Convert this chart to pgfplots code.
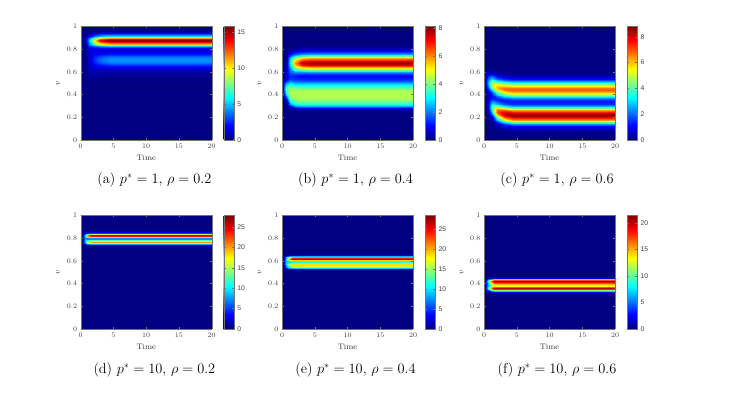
\documentclass[border=0pt]{standalone}
\usepackage{fontspec}
\usepackage{pgfplots}
\pgfplotsset{compat=1.18}
\newfontfamily\cbfont{Liberation Sans}
\pgfplotsset{
  heat/.style={
    scale only axis, width=131pt, height=113.5pt, anchor=south west,
    xmin=0,xmax=20,ymin=0,ymax=1, view={0}{90},
    colormap/jet, colorbar, point meta min=0,
    xtick={0,5,10,15,20}, ytick={0,0.2,0.4,0.6,0.8,1},
    tick align=inside, major tick length=2pt,
    tick label style={font=\fontsize{7.5}{8}\selectfont, color=black!75},
    xlabel={Time}, ylabel={$v$},
    label style={font=\fontsize{8}{9}\selectfont, color=black!80},
    axis line style={black!55, line width=0.4pt},
    every tick/.style={black!55},
    axis on top,
    colorbar style={width=10pt, at={(parent axis.north east)}, anchor=north west, xshift=3.5pt,
      tick align=inside, major tick length=2pt,
      axis line style={black!55, line width=0.4pt},
      yticklabel style={font=\cbfont\fontsize{6.8}{7}\selectfont, color=black!75, /pgf/number format/assume math mode=true}},
  },
  hs/.style={surf, shader=interp, mesh/cols=#1}
}
\begin{document}
\begin{tikzpicture}
\path[use as bounding box] (0pt,0pt) rectangle (754pt,396pt);
% (a)
\begin{axis}[heat, at={(80.7pt,256pt)}, point meta max=15.75, colorbar style={ytick={0,5,10,15}}]
\addplot3[hs=7] table[row sep=\\]{x y z\\
0 0 0\\ .6 0 0\\ 1.2 0 0\\ 2 0 0\\ 3 0 0\\ 4.5 0 0\\ 20 0 0\\
0 .5 0\\ .6 .5 0\\ 1.2 .5 0\\ 2 .5 0\\ 3 .5 0\\ 4.5 .5 0\\ 20 .5 0\\
0 .56 0\\ .6 .56 0\\ 1.2 .56 .5\\ 2 .56 .4\\ 3 .56 .3\\ 4.5 .56 .2\\ 20 .56 .2\\
0 .60 0\\ .6 .60 0\\ 1.2 .60 .8\\ 2 .60 .8\\ 3 .60 .6\\ 4.5 .60 .55\\ 20 .60 .55\\
0 .62 0\\ .6 .62 0\\ 1.2 .62 .9\\ 2 .62 1\\ 3 .62 .95\\ 4.5 .62 .95\\ 20 .62 .95\\
0 .64 0\\ .6 .64 0\\ 1.2 .64 1\\ 2 .64 1.3\\ 3 .64 1.5\\ 4.5 .64 1.66\\ 20 .64 1.66\\
0 .66 0\\ .6 .66 0\\ 1.2 .66 1\\ 2 .66 1.7\\ 3 .66 2.3\\ 4.5 .66 2.67\\ 20 .66 2.67\\
0 .68 0\\ .6 .68 0\\ 1.2 .68 1\\ 2 .68 2.2\\ 3 .68 3.1\\ 4.5 .68 3.68\\ 20 .68 3.68\\
0 .70 0\\ .6 .70 0\\ 1.2 .70 1\\ 2 .70 2.5\\ 3 .70 3.6\\ 4.5 .70 4.26\\ 20 .70 4.26\\
0 .72 0\\ .6 .72 0\\ 1.2 .72 1\\ 2 .72 2.5\\ 3 .72 3.5\\ 4.5 .72 4.11\\ 20 .72 4.11\\
0 .74 0\\ .6 .74 0\\ 1.2 .74 1\\ 2 .74 2.2\\ 3 .74 2.9\\ 4.5 .74 3.31\\ 20 .74 3.31\\
0 .76 0\\ .6 .76 0\\ 1.2 .76 1.1\\ 2 .76 1.8\\ 3 .76 2\\ 4.5 .76 2.25\\ 20 .76 2.25\\
0 .78 0\\ .6 .78 0\\ 1.2 .78 1.3\\ 2 .78 1.5\\ 3 .78 1.4\\ 4.5 .78 1.43\\ 20 .78 1.43\\
0 .80 0\\ .6 .80 0\\ 1.2 .80 1.6\\ 2 .80 1.5\\ 3 .80 1.4\\ 4.5 .80 1.38\\ 20 .80 1.38\\
0 .81 0\\ .6 .81 0\\ 1.2 .81 1.9\\ 2 .81 1.8\\ 3 .81 1.9\\ 4.5 .81 1.96\\ 20 .81 1.96\\
0 .82 0\\ .6 .82 0\\ 1.2 .82 2.3\\ 2 .82 2.4\\ 3 .82 2.9\\ 4.5 .82 3.16\\ 20 .82 3.16\\
0 .83 0\\ .6 .83 0\\ 1.2 .83 2.8\\ 2 .83 3.5\\ 3 .83 4.7\\ 4.5 .83 5.2\\ 20 .83 5.2\\
0 .84 0\\ .6 .84 0\\ 1.2 .84 3.4\\ 2 .84 5\\ 3 .84 7.1\\ 4.5 .84 7.9\\ 20 .84 7.9\\
0 .85 0\\ .6 .85 .2\\ 1.2 .85 4\\ 2 .85 6.8\\ 3 .85 9.8\\ 4.5 .85 10.9\\ 20 .85 10.9\\
0 .86 0\\ .6 .86 .35\\ 1.2 .86 4.6\\ 2 .86 8.4\\ 3 .86 12.2\\ 4.5 .86 13.6\\ 20 .86 13.6\\
0 .87 0\\ .6 .87 .5\\ 1.2 .87 5\\ 2 .87 9.4\\ 3 .87 13.8\\ 4.5 .87 15.3\\ 20 .87 15.3\\
0 .88 0\\ .6 .88 .5\\ 1.2 .88 5\\ 2 .88 9.5\\ 3 .88 14\\ 4.5 .88 15.5\\ 20 .88 15.5\\
0 .89 0\\ .6 .89 .45\\ 1.2 .89 4.6\\ 2 .89 8.6\\ 3 .89 12.6\\ 4.5 .89 14\\ 20 .89 14\\
0 .90 0\\ .6 .90 .3\\ 1.2 .90 3.8\\ 2 .90 7\\ 3 .90 10.2\\ 4.5 .90 11.3\\ 20 .90 11.3\\
0 .91 0\\ .6 .91 .15\\ 1.2 .91 2.7\\ 2 .91 5\\ 3 .91 7.4\\ 4.5 .91 8.2\\ 20 .91 8.2\\
0 .92 0\\ .6 .92 0\\ 1.2 .92 1.7\\ 2 .92 3.3\\ 3 .92 4.8\\ 4.5 .92 5.3\\ 20 .92 5.3\\
0 .93 0\\ .6 .93 0\\ 1.2 .93 1\\ 2 .93 1.9\\ 3 .93 2.8\\ 4.5 .93 3.1\\ 20 .93 3.1\\
0 .94 0\\ .6 .94 0\\ 1.2 .94 .5\\ 2 .94 1\\ 3 .94 1.4\\ 4.5 .94 1.6\\ 20 .94 1.6\\
0 .96 0\\ .6 .96 0\\ 1.2 .96 .1\\ 2 .96 .2\\ 3 .96 .3\\ 4.5 .96 .3\\ 20 .96 .3\\
0 .98 0\\ .6 .98 0\\ 1.2 .98 0\\ 2 .98 0\\ 3 .98 0\\ 4.5 .98 0\\ 20 .98 0\\
0 1 0\\ .6 1 0\\ 1.2 1 0\\ 2 1 0\\ 3 1 0\\ 4.5 1 0\\ 20 1 0\\
};
\end{axis}
% (b)
\begin{axis}[heat, at={(282pt,256pt)}, point meta max=8.15, colorbar style={ytick={0,2,4,6,8}}]
\addplot3[hs=7] table[row sep=\\]{x y z\\
0 0 0\\ .6 0 0\\ 1.2 0 0\\ 2 0 0\\ 3 0 0\\ 4.5 0 0\\ 20 0 0\\
0 .22 0\\ .6 .22 0\\ 1.2 .22 0\\ 2 .22 0\\ 3 .22 0\\ 4.5 .22 0\\ 20 .22 0\\
0 .24 0\\ .6 .24 0\\ 1.2 .24 0\\ 2 .24 0\\ 3 .24 0\\ 4.5 .24 0\\ 20 .24 0\\
0 .26 0\\ .6 .26 0\\ 1.2 .26 0\\ 2 .26 .2\\ 3 .26 .2\\ 4.5 .26 .2\\ 20 .26 .2\\
0 .28 0\\ .6 .28 0\\ 1.2 .28 .3\\ 2 .28 .8\\ 3 .28 .9\\ 4.5 .28 .9\\ 20 .28 .9\\
0 .30 0\\ .6 .30 0\\ 1.2 .30 1.1\\ 2 .30 2.2\\ 3 .30 2.4\\ 4.5 .30 2.4\\ 20 .30 2.4\\
0 .32 0\\ .6 .32 .1\\ 1.2 .32 2.2\\ 2 .32 3.3\\ 3 .32 3.4\\ 4.5 .32 3.4\\ 20 .32 3.4\\
0 .34 0\\ .6 .34 .3\\ 1.2 .34 3.1\\ 2 .34 3.9\\ 3 .34 4\\ 4.5 .34 4\\ 20 .34 4\\
0 .36 0\\ .6 .36 .8\\ 1.2 .36 3.7\\ 2 .36 4.2\\ 3 .36 4.3\\ 4.5 .36 4.3\\ 20 .36 4.3\\
0 .38 0\\ .6 .38 1.6\\ 1.2 .38 4.1\\ 2 .38 4.4\\ 3 .38 4.45\\ 4.5 .38 4.45\\ 20 .38 4.45\\
0 .40 0\\ .6 .40 2.5\\ 1.2 .40 4.3\\ 2 .40 4.4\\ 3 .40 4.5\\ 4.5 .40 4.5\\ 20 .40 4.5\\
0 .42 0\\ .6 .42 3.2\\ 1.2 .42 4.4\\ 2 .42 4.4\\ 3 .42 4.45\\ 4.5 .42 4.45\\ 20 .42 4.45\\
0 .44 0\\ .6 .44 3.6\\ 1.2 .44 4.4\\ 2 .44 4.3\\ 3 .44 4.3\\ 4.5 .44 4.3\\ 20 .44 4.3\\
0 .46 0\\ .6 .46 3.6\\ 1.2 .46 4.2\\ 2 .46 3.9\\ 3 .46 3.9\\ 4.5 .46 3.9\\ 20 .46 3.9\\
0 .48 0\\ .6 .48 3.1\\ 1.2 .48 3.7\\ 2 .48 3.3\\ 3 .48 3.3\\ 4.5 .48 3.3\\ 20 .48 3.3\\
0 .50 0\\ .6 .50 2.2\\ 1.2 .50 2.9\\ 2 .50 2.5\\ 3 .50 2.5\\ 4.5 .50 2.5\\ 20 .50 2.5\\
0 .52 0\\ .6 .52 1.3\\ 1.2 .52 2.1\\ 2 .52 1.8\\ 3 .52 1.7\\ 4.5 .52 1.7\\ 20 .52 1.7\\
0 .54 0\\ .6 .54 .8\\ 1.2 .54 1.5\\ 2 .54 1.35\\ 3 .54 1.25\\ 4.5 .54 1.25\\ 20 .54 1.25\\
0 .56 0\\ .6 .56 .6\\ 1.2 .56 1.3\\ 2 .56 1.2\\ 3 .56 1.05\\ 4.5 .56 1.05\\ 20 .56 1.05\\
0 .58 0\\ .6 .58 .6\\ 1.2 .58 1.6\\ 2 .58 1.5\\ 3 .58 1.35\\ 4.5 .58 1.38\\ 20 .58 1.38\\
0 .60 0\\ .6 .60 .6\\ 1.2 .60 1.8\\ 2 .60 2.2\\ 3 .60 2.2\\ 4.5 .60 2.32\\ 20 .60 2.32\\
0 .62 0\\ .6 .62 .6\\ 1.2 .62 2\\ 2 .62 3.3\\ 3 .62 3.7\\ 4.5 .62 3.9\\ 20 .62 3.9\\
0 .64 0\\ .6 .64 .5\\ 1.2 .64 2.4\\ 2 .64 4.6\\ 3 .64 5.5\\ 4.5 .64 5.81\\ 20 .64 5.81\\
0 .66 0\\ .6 .66 .4\\ 1.2 .66 2.8\\ 2 .66 5.6\\ 3 .66 7\\ 4.5 .66 7.38\\ 20 .66 7.38\\
0 .68 0\\ .6 .68 .3\\ 1.2 .68 3\\ 2 .68 6\\ 3 .68 7.6\\ 4.5 .68 8\\ 20 .68 8\\
0 .70 0\\ .6 .70 .15\\ 1.2 .70 3\\ 2 .70 5.6\\ 3 .70 7\\ 4.5 .70 7.38\\ 20 .70 7.38\\
0 .72 0\\ .6 .72 0\\ 1.2 .72 2.6\\ 2 .72 4.4\\ 3 .72 5.5\\ 4.5 .72 5.81\\ 20 .72 5.81\\
0 .74 0\\ .6 .74 0\\ 1.2 .74 1.8\\ 2 .74 2.9\\ 3 .74 3.7\\ 4.5 .74 3.9\\ 20 .74 3.9\\
0 .76 0\\ .6 .76 0\\ 1.2 .76 1\\ 2 .76 1.7\\ 3 .76 2.1\\ 4.5 .76 2.22\\ 20 .76 2.22\\
0 .78 0\\ .6 .78 0\\ 1.2 .78 .4\\ 2 .78 .8\\ 3 .78 1\\ 4.5 .78 1.08\\ 20 .78 1.08\\
0 .80 0\\ .6 .80 0\\ 1.2 .80 .1\\ 2 .80 .35\\ 3 .80 .4\\ 4.5 .80 .45\\ 20 .80 .45\\
0 .82 0\\ .6 .82 0\\ 1.2 .82 0\\ 2 .82 .1\\ 3 .82 .15\\ 4.5 .82 .16\\ 20 .82 .16\\
0 .84 0\\ .6 .84 0\\ 1.2 .84 0\\ 2 .84 0\\ 3 .84 .05\\ 4.5 .84 .05\\ 20 .84 .05\\
0 .86 0\\ .6 .86 0\\ 1.2 .86 0\\ 2 .86 0\\ 3 .86 0\\ 4.5 .86 0\\ 20 .86 0\\
0 1 0\\ .6 1 0\\ 1.2 1 0\\ 2 1 0\\ 3 1 0\\ 4.5 1 0\\ 20 1 0\\
};
\end{axis}
% (c)
\begin{axis}[heat, at={(484pt,256pt)}, point meta max=8.8, colorbar style={ytick={0,2,4,6,8}}]
\addplot3[hs=7] table[row sep=\\]{x y z\\
0 0 0\\ .6 0 0\\ 1.2 0 0\\ 2 0 0\\ 3 0 0\\ 4.5 0 0\\ 20 0 0\\
0 .04 0\\ .6 .04 0\\ 1.2 .04 0\\ 2 .04 0\\ 3 .04 0\\ 4.5 .04 .01\\ 20 .04 .01\\
0 .06 0\\ .6 .06 0\\ 1.2 .06 0\\ 2 .06 0\\ 3 .06 .02\\ 4.5 .06 .05\\ 20 .06 .05\\
0 .08 0\\ .6 .08 0\\ 1.2 .08 0\\ 2 .08 .02\\ 3 .08 .09\\ 4.5 .08 .17\\ 20 .08 .17\\
0 .10 0\\ .6 .10 0\\ 1.2 .10 0\\ 2 .10 .08\\ 3 .10 .28\\ 4.5 .10 .49\\ 20 .10 .49\\
0 .12 0\\ .6 .12 0\\ 1.2 .12 .02\\ 2 .12 .24\\ 3 .12 .74\\ 4.5 .12 1.17\\ 20 .12 1.17\\
0 .14 0\\ .6 .14 0\\ 1.2 .14 .06\\ 2 .14 .62\\ 3 .14 1.64\\ 4.5 .14 2.42\\ 20 .14 2.42\\
0 .16 0\\ .6 .16 0\\ 1.2 .16 .18\\ 2 .16 1.39\\ 3 .16 3.11\\ 4.5 .16 4.24\\ 20 .16 4.24\\
0 .18 0\\ .6 .18 .03\\ 1.2 .18 .44\\ 2 .18 2.63\\ 3 .18 5.04\\ 4.5 .18 6.32\\ 20 .18 6.32\\
0 .20 0\\ .6 .20 .07\\ 1.2 .20 .94\\ 2 .20 4.25\\ 3 .20 6.93\\ 4.5 .20 8.03\\ 20 .20 8.03\\
0 .22 0\\ .6 .22 .16\\ 1.2 .22 1.72\\ 2 .22 5.85\\ 3 .22 8.13\\ 4.5 .22 8.7\\ 20 .22 8.7\\
0 .24 0\\ .6 .24 .3\\ 1.2 .24 2.67\\ 2 .24 6.86\\ 3 .24 8.13\\ 4.5 .24 8.03\\ 20 .24 8.03\\
0 .26 0\\ .6 .26 .49\\ 1.2 .26 3.53\\ 2 .26 6.86\\ 3 .26 6.93\\ 4.5 .26 6.32\\ 20 .26 6.32\\
0 .28 0\\ .6 .28 .67\\ 1.2 .28 3.98\\ 2 .28 5.86\\ 3 .28 5.06\\ 4.5 .28 4.27\\ 20 .28 4.27\\
0 .30 0\\ .6 .30 .78\\ 1.2 .30 3.82\\ 2 .30 4.27\\ 3 .30 3.17\\ 4.5 .30 2.53\\ 20 .30 2.53\\
0 .32 0\\ .6 .32 .78\\ 1.2 .32 3.15\\ 2 .32 2.72\\ 3 .32 1.85\\ 4.5 .32 1.48\\ 20 .32 1.48\\
0 .34 0\\ .6 .34 .68\\ 1.2 .34 2.24\\ 2 .34 1.66\\ 3 .34 1.29\\ 4.5 .34 1.26\\ 20 .34 1.26\\
0 .36 0\\ .6 .36 .53\\ 1.2 .36 1.47\\ 2 .36 1.3\\ 3 .36 1.55\\ 4.5 .36 1.82\\ 20 .36 1.82\\
0 .38 0\\ .6 .38 .41\\ 1.2 .38 1.11\\ 2 .38 1.7\\ 3 .38 2.5\\ 4.5 .38 3.05\\ 20 .38 3.05\\
0 .40 0\\ .6 .40 .44\\ 1.2 .40 1.27\\ 2 .40 2.74\\ 3 .40 3.97\\ 4.5 .40 4.68\\ 20 .40 4.68\\
0 .42 0\\ .6 .42 .66\\ 1.2 .42 1.98\\ 2 .42 4.16\\ 3 .42 5.54\\ 4.5 .42 6.17\\ 20 .42 6.17\\
0 .44 0\\ .6 .44 1.1\\ 1.2 .44 3.07\\ 2 .44 5.47\\ 3 .44 6.61\\ 4.5 .44 6.97\\ 20 .44 6.97\\
0 .46 0\\ .6 .46 1.67\\ 1.2 .46 4.18\\ 2 .46 6.17\\ 3 .46 6.71\\ 4.5 .46 6.69\\ 20 .46 6.69\\
0 .48 0\\ .6 .48 2.21\\ 1.2 .48 4.9\\ 2 .48 5.93\\ 3 .48 5.81\\ 4.5 .48 5.48\\ 20 .48 5.48\\
0 .50 0\\ .6 .50 2.49\\ 1.2 .50 4.9\\ 2 .50 4.85\\ 3 .50 4.28\\ 4.5 .50 3.82\\ 20 .50 3.82\\
0 .52 0\\ .6 .52 2.39\\ 1.2 .52 4.18\\ 2 .52 3.39\\ 3 .52 2.7\\ 4.5 .52 2.28\\ 20 .52 2.28\\
0 .54 0\\ .6 .54 1.96\\ 1.2 .54 3.04\\ 2 .54 2.02\\ 3 .54 1.45\\ 4.5 .54 1.15\\ 20 .54 1.15\\
0 .56 0\\ .6 .56 1.37\\ 1.2 .56 1.88\\ 2 .56 1.02\\ 3 .56 .66\\ 4.5 .56 .5\\ 20 .56 .5\\
0 .58 0\\ .6 .58 .81\\ 1.2 .58 .99\\ 2 .58 .44\\ 3 .58 .26\\ 4.5 .58 .18\\ 20 .58 .18\\
0 .60 0\\ .6 .60 .41\\ 1.2 .60 .45\\ 2 .60 .16\\ 3 .60 .09\\ 4.5 .60 .06\\ 20 .60 .06\\
0 .62 0\\ .6 .62 .18\\ 1.2 .62 .17\\ 2 .62 .05\\ 3 .62 .03\\ 4.5 .62 .01\\ 20 .62 .01\\
0 .64 0\\ .6 .64 .07\\ 1.2 .64 .06\\ 2 .64 .02\\ 3 .64 .01\\ 4.5 .64 0\\ 20 .64 0\\
0 .68 0\\ .6 .68 .01\\ 1.2 .68 0\\ 2 .68 0\\ 3 .68 0\\ 4.5 .68 0\\ 20 .68 0\\
0 1 0\\ .6 1 0\\ 1.2 1 0\\ 2 1 0\\ 3 1 0\\ 4.5 1 0\\ 20 1 0\\
};
\end{axis}
% (d)
\begin{axis}[heat, at={(80.7pt,67pt)}, point meta max=27.8, colorbar style={ytick={0,5,10,15,20,25}}]
\addplot3[hs=6] table[row sep=\\]{x y z\\
0 0 0\\ .2 0 0\\ .6 0 0\\ 1 0 0\\ 1.5 0 0\\ 20 0 0\\
0 .70 0\\ .2 .70 0\\ .6 .70 0\\ 1 .70 0\\ 1.5 .70 0\\ 20 .70 0\\
0 .72 0\\ .2 .72 0\\ .6 .72 0\\ 1 .72 0\\ 1.5 .72 0\\ 20 .72 0\\
0 .73 0\\ .2 .73 0\\ .6 .73 0\\ 1 .73 0\\ 1.5 .73 .2\\ 20 .73 .2\\
0 .74 0\\ .2 .74 0\\ .6 .74 .5\\ 1 .74 1.2\\ 1.5 .74 1.5\\ 20 .74 1.5\\
0 .75 0\\ .2 .75 .2\\ .6 .75 2.5\\ 1 .75 7\\ 1.5 .75 8\\ 20 .75 8\\
0 .76 0\\ .2 .76 .5\\ .6 .76 6\\ 1 .76 15\\ 1.5 .76 18\\ 20 .76 18\\
0 .77 0\\ .2 .77 .8\\ .6 .77 8.5\\ 1 .77 16\\ 1.5 .77 20\\ 20 .77 20\\
0 .78 0\\ .2 .78 1\\ .6 .78 9\\ 1 .78 11\\ 1.5 .78 13\\ 20 .78 13\\
0 .79 0\\ .2 .79 1\\ .6 .79 8\\ 1 .79 7\\ 1.5 .79 7.5\\ 20 .79 7.5\\
0 .80 0\\ .2 .80 1\\ .6 .80 7.5\\ 1 .80 7\\ 1.5 .80 7.5\\ 20 .80 7.5\\
0 .81 0\\ .2 .81 1\\ .6 .81 8.5\\ 1 .81 12\\ 1.5 .81 14\\ 20 .81 14\\
0 .82 0\\ .2 .82 1\\ .6 .82 9.5\\ 1 .82 19\\ 1.5 .82 24\\ 20 .82 24\\
0 .83 0\\ .2 .83 .8\\ .6 .83 9\\ 1 .83 20\\ 1.5 .83 26\\ 20 .83 26\\
0 .84 0\\ .2 .84 .5\\ .6 .84 6\\ 1 .84 13\\ 1.5 .84 16\\ 20 .84 16\\
0 .85 0\\ .2 .85 .2\\ .6 .85 2.5\\ 1 .85 4.5\\ 1.5 .85 5\\ 20 .85 5\\
0 .86 0\\ .2 .86 0\\ .6 .86 .5\\ 1 .86 .8\\ 1.5 .86 .8\\ 20 .86 .8\\
0 .87 0\\ .2 .87 0\\ .6 .87 0\\ 1 .87 .1\\ 1.5 .87 .1\\ 20 .87 .1\\
0 .88 0\\ .2 .88 0\\ .6 .88 0\\ 1 .88 0\\ 1.5 .88 0\\ 20 .88 0\\
0 1 0\\ .2 1 0\\ .6 1 0\\ 1 1 0\\ 1.5 1 0\\ 20 1 0\\
};
\end{axis}
% (e)
\begin{axis}[heat, at={(282pt,67pt)}, point meta max=28.3, colorbar style={ytick={0,5,10,15,20,25}}]
\addplot3[hs=6] table[row sep=\\]{x y z\\
0 0 0\\ .2 0 0\\ .6 0 0\\ 1 0 0\\ 1.5 0 0\\ 20 0 0\\
0 .48 0\\ .2 .48 0\\ .6 .48 0\\ 1 .48 0\\ 1.5 .48 0\\ 20 .48 0\\
0 .50 0\\ .2 .50 0\\ .6 .50 0\\ 1 .50 0\\ 1.5 .50 0\\ 20 .50 0\\
0 .51 0\\ .2 .51 0\\ .6 .51 0\\ 1 .51 0\\ 1.5 .51 .2\\ 20 .51 .2\\
0 .52 0\\ .2 .52 0\\ .6 .52 0\\ 1 .52 .5\\ 1.5 .52 .8\\ 20 .52 .8\\
0 .53 0\\ .2 .53 0\\ .6 .53 .8\\ 1 .53 2\\ 1.5 .53 3\\ 20 .53 3\\
0 .54 0\\ .2 .54 .2\\ .6 .54 3\\ 1 .54 7\\ 1.5 .54 9\\ 20 .54 9\\
0 .55 0\\ .2 .55 .5\\ .6 .55 6.5\\ 1 .55 12\\ 1.5 .55 15\\ 20 .55 15\\
0 .56 0\\ .2 .56 .8\\ .6 .56 8.5\\ 1 .56 14.5\\ 1.5 .56 18.5\\ 20 .56 18.5\\
0 .57 0\\ .2 .57 1\\ .6 .57 9.5\\ 1 .57 14.5\\ 1.5 .57 18.5\\ 20 .57 18.5\\
0 .58 0\\ .2 .58 1\\ .6 .58 9.5\\ 1 .58 12\\ 1.5 .58 15\\ 20 .58 15\\
0 .59 0\\ .2 .59 1\\ .6 .59 9\\ 1 .59 9.5\\ 1.5 .59 11.5\\ 20 .59 11.5\\
0 .60 0\\ .2 .60 1\\ .6 .60 9\\ 1 .60 10\\ 1.5 .60 12\\ 20 .60 12\\
0 .61 0\\ .2 .61 1\\ .6 .61 9.5\\ 1 .61 15\\ 1.5 .61 19\\ 20 .61 19\\
0 .62 0\\ .2 .62 .8\\ .6 .62 10\\ 1 .62 20\\ 1.5 .62 27\\ 20 .62 27\\
0 .63 0\\ .2 .63 .5\\ .6 .63 8\\ 1 .63 16\\ 1.5 .63 21\\ 20 .63 21\\
0 .64 0\\ .2 .64 .2\\ .6 .64 4\\ 1 .64 7\\ 1.5 .64 8.5\\ 20 .64 8.5\\
0 .65 0\\ .2 .65 0\\ .6 .65 1.2\\ 1 .65 1.8\\ 1.5 .65 2\\ 20 .65 2\\
0 .66 0\\ .2 .66 0\\ .6 .66 .3\\ 1 .66 .4\\ 1.5 .66 .4\\ 20 .66 .4\\
0 .67 0\\ .2 .67 0\\ .6 .67 0\\ 1 .67 .1\\ 1.5 .67 .1\\ 20 .67 .1\\
0 .68 0\\ .2 .68 0\\ .6 .68 0\\ 1 .68 0\\ 1.5 .68 0\\ 20 .68 0\\
0 1 0\\ .2 1 0\\ .6 1 0\\ 1 1 0\\ 1.5 1 0\\ 20 1 0\\
};
\end{axis}
% (f)
\begin{axis}[heat, at={(484pt,67pt)}, point meta max=21.4, colorbar style={ytick={0,5,10,15,20}}]
\addplot3[hs=6] table[row sep=\\]{x y z\\
0 0 0\\ .2 0 0\\ .6 0 0\\ 1 0 0\\ 1.5 0 0\\ 20 0 0\\
0 .28 0\\ .2 .28 0\\ .6 .28 0\\ 1 .28 0\\ 1.5 .28 0\\ 20 .28 0\\
0 .30 0\\ .2 .30 0\\ .6 .30 0\\ 1 .30 0\\ 1.5 .30 0\\ 20 .30 0\\
0 .31 0\\ .2 .31 0\\ .6 .31 0\\ 1 .31 0\\ 1.5 .31 .1\\ 20 .31 .1\\
0 .32 0\\ .2 .32 0\\ .6 .32 0\\ 1 .32 .3\\ 1.5 .32 .5\\ 20 .32 .5\\
0 .33 0\\ .2 .33 0\\ .6 .33 1\\ 1 .33 2\\ 1.5 .33 3\\ 20 .33 3\\
0 .34 0\\ .2 .34 .2\\ .6 .34 4\\ 1 .34 8\\ 1.5 .34 11\\ 20 .34 11\\
0 .35 0\\ .2 .35 .5\\ .6 .35 7.5\\ 1 .35 14\\ 1.5 .35 18\\ 20 .35 18\\
0 .36 0\\ .2 .36 .8\\ .6 .36 8.5\\ 1 .36 16\\ 1.5 .36 20\\ 20 .36 20\\
0 .37 0\\ .2 .37 1\\ .6 .37 8\\ 1 .37 14\\ 1.5 .37 17\\ 20 .37 17\\
0 .38 0\\ .2 .38 1\\ .6 .38 7\\ 1 .38 11\\ 1.5 .38 13.5\\ 20 .38 13.5\\
0 .39 0\\ .2 .39 1\\ .6 .39 6.5\\ 1 .39 10\\ 1.5 .39 12.5\\ 20 .39 12.5\\
0 .40 0\\ .2 .40 1\\ .6 .40 7\\ 1 .40 12\\ 1.5 .40 15\\ 20 .40 15\\
0 .41 0\\ .2 .41 1\\ .6 .41 8\\ 1 .41 15\\ 1.5 .41 19\\ 20 .41 19\\
0 .42 0\\ .2 .42 .8\\ .6 .42 8.5\\ 1 .42 16.5\\ 1.5 .42 21\\ 20 .42 21\\
0 .43 0\\ .2 .43 .5\\ .6 .43 7.5\\ 1 .43 13.5\\ 1.5 .43 17\\ 20 .43 17\\
0 .44 0\\ .2 .44 .2\\ .6 .44 4\\ 1 .44 6\\ 1.5 .44 8\\ 20 .44 8\\
0 .45 0\\ .2 .45 0\\ .6 .45 1.2\\ 1 .45 1.5\\ 1.5 .45 2\\ 20 .45 2\\
0 .46 0\\ .2 .46 0\\ .6 .46 .3\\ 1 .46 .3\\ 1.5 .46 .4\\ 20 .46 .4\\
0 .47 0\\ .2 .47 0\\ .6 .47 0\\ 1 .47 .1\\ 1.5 .47 .1\\ 20 .47 .1\\
0 .48 0\\ .2 .48 0\\ .6 .48 0\\ 1 .48 0\\ 1.5 .48 0\\ 20 .48 0\\
0 1 0\\ .2 1 0\\ .6 1 0\\ 1 1 0\\ 1.5 1 0\\ 20 1 0\\
};
\end{axis}
\begin{scope}[every node/.style={font=\fontsize{14.3}{17}\selectfont}]
\node at (154.4pt,216pt) {(a) $p^*=1$, $\rho=0.2$};
\node at (355.5pt,216pt) {(b) $p^*=1$, $\rho=0.4$};
\node at (557pt,216pt) {(c) $p^*=1$, $\rho=0.6$};
\node at (154.4pt,26.3pt) {(d) $p^*=10$, $\rho=0.2$};
\node at (355.5pt,26.3pt) {(e) $p^*=10$, $\rho=0.4$};
\node at (557pt,26.3pt) {(f) $p^*=10$, $\rho=0.6$};
\end{scope}
\end{tikzpicture}
\end{document}
